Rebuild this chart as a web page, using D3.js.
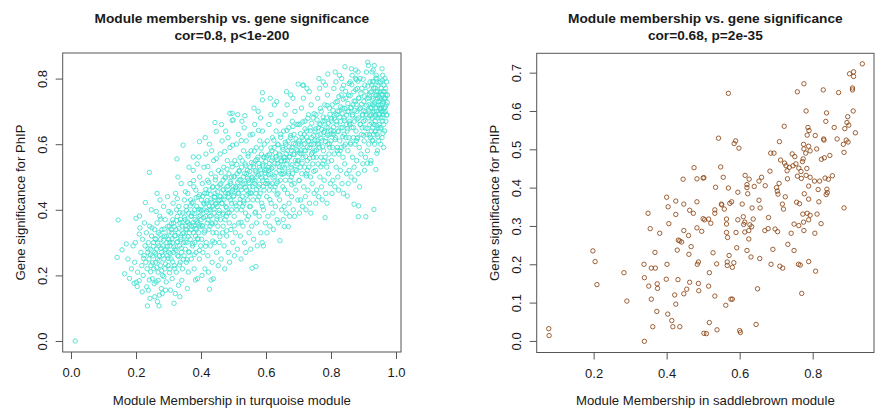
<!DOCTYPE html>
<html>
<head>
<meta charset="utf-8">
<script src="https://cdn.jsdelivr.net/npm/d3@7"></script>
<style>
body{margin:0;background:#fff;}
svg text{font-family:"Liberation Sans",Arial,sans-serif;fill:#1a1a1a;}
</style>
</head>
<body>
<div id="chart"></div>
<script>
// ---- data: [module membership, gene significance] ----
var turqBandA = [[0.013,0.00],[0.145,0.369],[0.142,0.255],[0.157,0.278],[0.170,0.296],[0.191,0.290],[0.180,0.191],[0.201,0.179],[0.204,0.166],[0.210,0.184],[0.194,0.176],[0.200,0.374],[0.211,0.381],[0.210,0.326],[0.186,0.22],[0.175,0.25],[0.196,0.24],[0.205,0.21],[0.198,0.30],[0.165,0.205]];
var turqBandB = [[0.229,0.422],[0.241,0.514],[0.235,0.107],[0.238,0.155],[0.241,0.186],[0.245,0.211],[0.215,0.27],[0.218,0.23],[0.22,0.31],[0.222,0.20],[0.225,0.26],[0.228,0.29],[0.23,0.24],[0.232,0.33],[0.234,0.22],[0.236,0.27],[0.238,0.30],[0.24,0.25],[0.242,0.35],[0.244,0.28],[0.246,0.23],[0.248,0.32],[0.25,0.19],[0.212,0.345],[0.226,0.36],[0.247,0.40],[0.233,0.165],[0.243,0.13],[0.219,0.15]];
var turqBandC = [[0.265,0.450],[0.271,0.107],[0.266,0.120],[0.258,0.135],[0.272,0.140],[0.252,0.26],[0.254,0.30],[0.255,0.22],[0.257,0.34],[0.258,0.27],[0.26,0.24],[0.261,0.31],[0.262,0.18],[0.263,0.28],[0.265,0.36],[0.266,0.25],[0.268,0.21],[0.269,0.33],[0.27,0.29],[0.272,0.26],[0.273,0.38],[0.275,0.23],[0.276,0.31],[0.278,0.16],[0.279,0.27],[0.28,0.34],[0.282,0.20],[0.283,0.29],[0.285,0.41],[0.286,0.25],[0.288,0.32],[0.289,0.22],[0.29,0.37],[0.292,0.28],[0.293,0.18],[0.295,0.30],[0.296,0.26],[0.298,0.35],[0.299,0.23],[0.281,0.145],[0.291,0.155],[0.256,0.175],[0.274,0.43],[0.297,0.44],[0.262,0.395]];
var turqBandD = [[0.317,0.115],[0.335,0.135],[0.345,0.597],[0.326,0.555],[0.30,0.31],[0.301,0.27],[0.303,0.35],[0.304,0.22],[0.305,0.29],[0.307,0.39],[0.308,0.25],[0.31,0.33],[0.311,0.19],[0.312,0.30],[0.314,0.42],[0.315,0.27],[0.316,0.36],[0.318,0.23],[0.319,0.32],[0.32,0.28],[0.322,0.45],[0.323,0.34],[0.324,0.21],[0.326,0.30],[0.327,0.38],[0.328,0.26],[0.33,0.33],[0.331,0.17],[0.332,0.41],[0.334,0.29],[0.335,0.36],[0.336,0.24],[0.338,0.31],[0.339,0.48],[0.34,0.27],[0.342,0.35],[0.343,0.22],[0.344,0.39],[0.346,0.30],[0.347,0.33],[0.348,0.26],[0.349,0.43],[0.306,0.155],[0.321,0.145],[0.329,0.50],[0.341,0.185],[0.313,0.37],[0.337,0.37],[0.309,0.34],[0.325,0.40]];
var turqBandE = [[0.395,0.608],[0.376,0.561],[0.393,0.561],[0.383,0.186],[0.35,0.32],[0.351,0.37],[0.352,0.28],[0.354,0.41],[0.355,0.24],[0.356,0.34],[0.357,0.30],[0.359,0.45],[0.36,0.36],[0.361,0.21],[0.362,0.39],[0.364,0.27],[0.365,0.33],[0.366,0.48],[0.367,0.31],[0.369,0.38],[0.37,0.25],[0.371,0.35],[0.372,0.42],[0.374,0.29],[0.375,0.36],[0.376,0.52],[0.377,0.33],[0.379,0.22],[0.38,0.40],[0.381,0.30],[0.382,0.37],[0.384,0.46],[0.385,0.27],[0.386,0.34],[0.387,0.41],[0.389,0.19],[0.39,0.36],[0.391,0.31],[0.392,0.44],[0.394,0.38],[0.395,0.25],[0.396,0.50],[0.397,0.35],[0.399,0.29],[0.358,0.16],[0.368,0.43],[0.378,0.47],[0.388,0.54],[0.363,0.53],[0.398,0.40],[0.373,0.39],[0.353,0.35],[0.383,0.32],[0.393,0.33]];
var turqBandF = [[0.426,0.158],[0.431,0.186],[0.443,0.666],[0.447,0.639],[0.40,0.37],[0.401,0.43],[0.402,0.31],[0.404,0.48],[0.405,0.35],[0.406,0.27],[0.407,0.40],[0.409,0.53],[0.41,0.33],[0.411,0.45],[0.412,0.22],[0.414,0.38],[0.415,0.57],[0.416,0.30],[0.417,0.42],[0.419,0.36],[0.42,0.49],[0.421,0.26],[0.422,0.40],[0.424,0.34],[0.425,0.46],[0.426,0.60],[0.427,0.38],[0.429,0.29],[0.43,0.43],[0.431,0.51],[0.432,0.36],[0.434,0.24],[0.435,0.41],[0.436,0.47],[0.437,0.33],[0.439,0.55],[0.44,0.39],[0.441,0.44],[0.442,0.30],[0.444,0.36],[0.445,0.50],[0.446,0.42],[0.448,0.27],[0.449,0.38],[0.403,0.20],[0.413,0.62],[0.423,0.21],[0.433,0.58],[0.438,0.19],[0.408,0.42],[0.418,0.45],[0.428,0.35],[0.443,0.45],[0.447,0.33],[0.428,0.40]];
var turqBandG = [[0.496,0.694],[0.496,0.672],[0.489,0.694],[0.499,0.674],[0.45,0.41],[0.451,0.47],[0.452,0.35],[0.454,0.52],[0.455,0.39],[0.456,0.30],[0.457,0.44],[0.459,0.57],[0.46,0.37],[0.461,0.48],[0.462,0.25],[0.464,0.42],[0.465,0.61],[0.466,0.33],[0.467,0.46],[0.469,0.39],[0.47,0.53],[0.471,0.29],[0.472,0.44],[0.474,0.37],[0.475,0.50],[0.476,0.64],[0.477,0.41],[0.479,0.32],[0.48,0.47],[0.481,0.55],[0.482,0.39],[0.484,0.27],[0.485,0.45],[0.486,0.51],[0.487,0.36],[0.489,0.59],[0.49,0.43],[0.491,0.48],[0.492,0.34],[0.494,0.40],[0.495,0.54],[0.497,0.46],[0.498,0.30],[0.453,0.23],[0.463,0.66],[0.473,0.22],[0.483,0.62],[0.488,0.24],[0.458,0.43],[0.468,0.49],[0.478,0.38],[0.493,0.50],[0.468,0.35],[0.483,0.45]];
var turqBandH = [[0.535,0.687],[0.557,0.222],[0.50,0.44],[0.501,0.50],[0.502,0.38],[0.504,0.55],[0.505,0.42],[0.506,0.33],[0.507,0.47],[0.509,0.60],[0.51,0.40],[0.511,0.51],[0.512,0.28],[0.514,0.45],[0.515,0.63],[0.516,0.36],[0.517,0.49],[0.519,0.42],[0.52,0.56],[0.521,0.32],[0.522,0.47],[0.524,0.40],[0.525,0.53],[0.526,0.67],[0.527,0.44],[0.529,0.35],[0.53,0.50],[0.531,0.58],[0.532,0.42],[0.534,0.30],[0.535,0.48],[0.536,0.54],[0.537,0.39],[0.539,0.61],[0.54,0.46],[0.541,0.51],[0.542,0.37],[0.544,0.43],[0.545,0.57],[0.546,0.49],[0.548,0.33],[0.549,0.41],[0.503,0.26],[0.513,0.69],[0.523,0.25],[0.533,0.65],[0.538,0.27],[0.508,0.46],[0.518,0.52],[0.528,0.41],[0.543,0.52],[0.547,0.45]];
var turqBandI = [[0.569,0.227],[0.592,0.290],[0.589,0.757],[0.589,0.735],[0.55,0.47],[0.551,0.53],[0.552,0.41],[0.554,0.58],[0.555,0.45],[0.556,0.35],[0.557,0.50],[0.559,0.63],[0.56,0.43],[0.561,0.54],[0.562,0.31],[0.564,0.48],[0.565,0.66],[0.566,0.39],[0.567,0.52],[0.569,0.45],[0.57,0.59],[0.571,0.36],[0.572,0.50],[0.574,0.43],[0.575,0.56],[0.576,0.70],[0.577,0.47],[0.579,0.38],[0.58,0.53],[0.581,0.61],[0.582,0.45],[0.584,0.33],[0.585,0.51],[0.586,0.57],[0.587,0.42],[0.589,0.64],[0.59,0.49],[0.591,0.54],[0.592,0.40],[0.594,0.46],[0.595,0.60],[0.597,0.52],[0.598,0.36],[0.553,0.28],[0.563,0.71],[0.573,0.29],[0.583,0.68],[0.588,0.30],[0.558,0.49],[0.568,0.55],[0.578,0.44],[0.593,0.56],[0.599,0.48]];
var turqBandJ = [[0.643,0.306],[0.60,0.50],[0.601,0.56],[0.602,0.44],[0.604,0.61],[0.605,0.48],[0.606,0.38],[0.607,0.53],[0.609,0.66],[0.61,0.46],[0.611,0.57],[0.612,0.35],[0.614,0.51],[0.615,0.69],[0.616,0.42],[0.617,0.55],[0.619,0.48],[0.62,0.62],[0.621,0.39],[0.622,0.53],[0.624,0.46],[0.625,0.59],[0.626,0.72],[0.627,0.50],[0.629,0.41],[0.63,0.56],[0.631,0.64],[0.632,0.48],[0.634,0.37],[0.635,0.54],[0.636,0.60],[0.637,0.45],[0.639,0.67],[0.64,0.52],[0.641,0.57],[0.642,0.43],[0.644,0.49],[0.645,0.63],[0.647,0.55],[0.648,0.40],[0.603,0.33],[0.613,0.74],[0.623,0.34],[0.633,0.73],[0.638,0.36],[0.608,0.52],[0.618,0.58],[0.628,0.47],[0.646,0.51]];
var turqBandK = [[0.656,0.349],[0.669,0.349],[0.699,0.783],[0.65,0.53],[0.651,0.59],[0.652,0.47],[0.654,0.64],[0.655,0.51],[0.656,0.41],[0.657,0.56],[0.659,0.69],[0.66,0.49],[0.661,0.60],[0.662,0.39],[0.664,0.54],[0.665,0.72],[0.666,0.45],[0.667,0.58],[0.669,0.51],[0.67,0.65],[0.671,0.42],[0.672,0.56],[0.674,0.49],[0.675,0.62],[0.676,0.75],[0.677,0.53],[0.679,0.44],[0.68,0.59],[0.681,0.67],[0.682,0.51],[0.684,0.40],[0.685,0.57],[0.686,0.63],[0.687,0.48],[0.689,0.70],[0.69,0.55],[0.691,0.60],[0.692,0.46],[0.694,0.52],[0.695,0.66],[0.697,0.58],[0.698,0.43],[0.653,0.37],[0.663,0.76],[0.673,0.38],[0.683,0.74],[0.688,0.38],[0.658,0.55],[0.668,0.61],[0.678,0.50],[0.696,0.54]];
var turqBandL = [[0.715,0.780],[0.70,0.55],[0.701,0.61],[0.702,0.49],[0.704,0.66],[0.705,0.53],[0.706,0.43],[0.707,0.58],[0.709,0.71],[0.71,0.51],[0.711,0.62],[0.712,0.41],[0.714,0.56],[0.715,0.74],[0.716,0.47],[0.717,0.60],[0.719,0.53],[0.72,0.67],[0.721,0.44],[0.722,0.58],[0.724,0.51],[0.725,0.64],[0.726,0.77],[0.727,0.55],[0.729,0.46],[0.73,0.61],[0.731,0.69],[0.732,0.53],[0.734,0.42],[0.735,0.59],[0.736,0.65],[0.737,0.50],[0.739,0.72],[0.74,0.57],[0.741,0.62],[0.742,0.48],[0.744,0.54],[0.745,0.68],[0.747,0.60],[0.748,0.45],[0.703,0.39],[0.713,0.78],[0.723,0.40],[0.733,0.76],[0.738,0.39],[0.708,0.57],[0.718,0.63],[0.728,0.52],[0.746,0.56]];
var turqBandM = [[0.782,0.376],[0.790,0.814],[0.75,0.58],[0.751,0.64],[0.752,0.52],[0.754,0.69],[0.755,0.56],[0.756,0.46],[0.757,0.61],[0.759,0.74],[0.76,0.54],[0.761,0.65],[0.762,0.44],[0.764,0.59],[0.765,0.77],[0.766,0.50],[0.767,0.63],[0.769,0.56],[0.77,0.70],[0.771,0.47],[0.772,0.61],[0.774,0.54],[0.775,0.67],[0.776,0.79],[0.777,0.58],[0.779,0.49],[0.78,0.64],[0.781,0.72],[0.782,0.56],[0.784,0.45],[0.785,0.62],[0.786,0.68],[0.787,0.53],[0.789,0.75],[0.79,0.60],[0.791,0.65],[0.792,0.51],[0.794,0.57],[0.795,0.71],[0.797,0.63],[0.798,0.48],[0.753,0.42],[0.763,0.80],[0.773,0.43],[0.783,0.78],[0.788,0.42],[0.758,0.60],[0.768,0.66],[0.778,0.55],[0.796,0.59]];
var turqBandN = [[0.843,0.836],[0.850,0.442],[0.80,0.61],[0.801,0.67],[0.802,0.55],[0.804,0.72],[0.805,0.59],[0.806,0.49],[0.807,0.64],[0.809,0.77],[0.81,0.57],[0.811,0.68],[0.812,0.47],[0.814,0.62],[0.815,0.79],[0.816,0.53],[0.817,0.66],[0.819,0.59],[0.82,0.73],[0.821,0.50],[0.822,0.64],[0.824,0.57],[0.825,0.70],[0.826,0.81],[0.827,0.61],[0.829,0.52],[0.83,0.67],[0.831,0.75],[0.832,0.59],[0.834,0.48],[0.835,0.65],[0.836,0.71],[0.837,0.56],[0.839,0.78],[0.84,0.63],[0.841,0.68],[0.842,0.54],[0.844,0.60],[0.845,0.74],[0.847,0.66],[0.848,0.51],[0.803,0.45],[0.813,0.82],[0.823,0.46],[0.833,0.80],[0.838,0.45],[0.808,0.63],[0.818,0.69],[0.828,0.58],[0.846,0.62]];
var turqBandO = [[0.876,0.826],[0.871,0.417],[0.885,0.412],[0.884,0.379],[0.85,0.64],[0.851,0.70],[0.852,0.58],[0.854,0.75],[0.855,0.62],[0.856,0.52],[0.857,0.67],[0.859,0.79],[0.86,0.60],[0.861,0.71],[0.862,0.50],[0.864,0.65],[0.865,0.81],[0.866,0.56],[0.867,0.69],[0.869,0.62],[0.87,0.76],[0.871,0.53],[0.872,0.67],[0.874,0.60],[0.875,0.73],[0.876,0.80],[0.877,0.64],[0.879,0.55],[0.88,0.70],[0.881,0.77],[0.882,0.62],[0.884,0.51],[0.885,0.68],[0.886,0.74],[0.887,0.59],[0.889,0.80],[0.89,0.66],[0.891,0.71],[0.892,0.57],[0.894,0.63],[0.895,0.77],[0.897,0.69],[0.898,0.54],[0.853,0.48],[0.863,0.83],[0.873,0.49],[0.883,0.82],[0.888,0.47],[0.858,0.66],[0.868,0.72],[0.878,0.61],[0.896,0.65]];
var turqBandP = [[0.907,0.379],[0.932,0.401],[0.912,0.542],[0.941,0.572],[0.938,0.523],[0.922,0.542],[0.930,0.826],[0.90,0.67],[0.901,0.73],[0.902,0.61],[0.904,0.78],[0.905,0.65],[0.906,0.56],[0.907,0.70],[0.909,0.82],[0.91,0.63],[0.911,0.74],[0.912,0.58],[0.914,0.68],[0.915,0.84],[0.916,0.60],[0.917,0.72],[0.919,0.66],[0.92,0.79],[0.921,0.62],[0.922,0.71],[0.924,0.64],[0.925,0.76],[0.926,0.82],[0.927,0.68],[0.929,0.61],[0.93,0.74],[0.931,0.79],[0.932,0.66],[0.934,0.60],[0.935,0.72],[0.936,0.77],[0.937,0.64],[0.939,0.81],[0.94,0.70],[0.941,0.75],[0.942,0.63],[0.944,0.68],[0.945,0.78],[0.946,0.73],[0.947,0.61],[0.948,0.66],[0.949,0.71],[0.903,0.52],[0.913,0.85],[0.923,0.55],[0.933,0.84],[0.943,0.58],[0.908,0.69],[0.918,0.75],[0.928,0.65],[0.938,0.69],[0.928,0.72],[0.933,0.70],[0.936,0.67],[0.924,0.69],[0.943,0.74],[0.947,0.69],[0.939,0.76],[0.931,0.63],[0.945,0.65],[0.926,0.78],[0.941,0.80]];
var turqBandQ = [[0.95,0.74],[0.951,0.68],[0.952,0.79],[0.953,0.72],[0.954,0.65],[0.955,0.77],[0.956,0.70],[0.957,0.62],[0.958,0.75],[0.959,0.81],[0.96,0.69],[0.961,0.73],[0.962,0.66],[0.963,0.78],[0.964,0.71],[0.965,0.64],[0.966,0.76],[0.967,0.70],[0.968,0.74],[0.969,0.67],[0.97,0.72],[0.971,0.79],[0.972,0.69],[0.974,0.75],[0.953,0.60],[0.957,0.83],[0.962,0.59],[0.966,0.80],[0.955,0.71],[0.959,0.67],[0.963,0.74],[0.958,0.70],[0.952,0.76],[0.968,0.77]];
// denser core of the turquoise cloud
var turqCore1 = [[0.223,0.252],[0.237,0.281],[0.244,0.263],[0.251,0.238],[0.253,0.289],[0.259,0.312],[0.261,0.265],[0.264,0.224],[0.267,0.298],[0.271,0.246],[0.274,0.325],[0.277,0.283],[0.279,0.214],[0.282,0.262],[0.284,0.307],[0.287,0.341],[0.289,0.277],[0.291,0.235],[0.294,0.319],[0.297,0.288],[0.299,0.252],[0.302,0.333],[0.304,0.301],[0.306,0.267],[0.309,0.358],[0.311,0.312],[0.313,0.241],[0.316,0.287],[0.318,0.348],[0.321,0.322],[0.323,0.276],[0.325,0.367],[0.328,0.303],[0.331,0.258],[0.333,0.344],[0.335,0.391],[0.337,0.316],[0.339,0.283],[0.342,0.362],[0.344,0.327],[0.346,0.249],[0.349,0.378],[0.351,0.302],[0.353,0.341],[0.356,0.398],[0.358,0.364],[0.36,0.318],[0.362,0.272],[0.365,0.356],[0.367,0.412],[0.369,0.339],[0.371,0.381],[0.374,0.297],[0.376,0.423],[0.378,0.352],[0.381,0.389],[0.383,0.343],[0.385,0.437],[0.387,0.366],[0.389,0.312],[0.392,0.402],[0.394,0.354],[0.396,0.446],[0.398,0.383],[0.268,0.185],[0.286,0.196],[0.303,0.208],[0.319,0.221],[0.334,0.232],[0.357,0.248],[0.379,0.263],[0.395,0.276],[0.249,0.345],[0.276,0.372],[0.301,0.395],[0.327,0.434],[0.352,0.455],[0.377,0.489]];
var turqCore2 = [[0.401,0.398],[0.403,0.352],[0.405,0.441],[0.408,0.376],[0.41,0.417],[0.412,0.336],[0.415,0.462],[0.417,0.395],[0.419,0.428],[0.422,0.369],[0.424,0.484],[0.426,0.411],[0.428,0.447],[0.431,0.382],[0.433,0.423],[0.435,0.357],[0.437,0.469],[0.44,0.402],[0.442,0.438],[0.444,0.491],[0.446,0.417],[0.449,0.372],[0.451,0.455],[0.453,0.428],[0.456,0.398],[0.458,0.476],[0.46,0.441],[0.462,0.513],[0.465,0.419],[0.467,0.386],[0.469,0.462],[0.471,0.432],[0.474,0.497],[0.476,0.451],[0.478,0.407],[0.48,0.524],[0.483,0.472],[0.485,0.438],[0.487,0.392],[0.49,0.486],[0.492,0.455],[0.494,0.419],[0.496,0.531],[0.499,0.471],[0.501,0.443],[0.503,0.502],[0.506,0.467],[0.508,0.412],[0.51,0.538],[0.513,0.483],[0.515,0.451],[0.517,0.517],[0.52,0.432],[0.522,0.492],[0.524,0.461],[0.527,0.549],[0.529,0.478],[0.531,0.427],[0.534,0.511],[0.536,0.469],[0.538,0.534],[0.541,0.445],[0.543,0.496],[0.545,0.563],[0.548,0.482],[0.55,0.517],[0.552,0.452],[0.555,0.544],[0.557,0.497],[0.559,0.471],[0.562,0.531],[0.564,0.579],[0.566,0.488],[0.569,0.515],[0.571,0.462],[0.573,0.553],[0.576,0.506],[0.578,0.541],[0.58,0.478],[0.583,0.522],[0.585,0.588],[0.587,0.497],[0.59,0.534],[0.592,0.471],[0.594,0.561],[0.597,0.512],[0.599,0.547],[0.414,0.289],[0.436,0.305],[0.458,0.318],[0.479,0.336],[0.502,0.351],[0.523,0.362],[0.546,0.381],[0.568,0.393],[0.589,0.41],[0.421,0.532],[0.447,0.556],[0.473,0.578],[0.497,0.597],[0.524,0.611],[0.551,0.628],[0.577,0.642]];
var turqCore3 = [[0.601,0.523],[0.603,0.488],[0.606,0.566],[0.608,0.507],[0.61,0.541],[0.613,0.474],[0.615,0.589],[0.617,0.526],[0.62,0.558],[0.622,0.497],[0.624,0.612],[0.627,0.542],[0.629,0.574],[0.631,0.513],[0.634,0.553],[0.636,0.486],[0.638,0.598],[0.641,0.531],[0.643,0.567],[0.645,0.621],[0.648,0.547],[0.65,0.508],[0.652,0.584],[0.655,0.559],[0.657,0.527],[0.659,0.606],[0.662,0.571],[0.664,0.642],[0.666,0.549],[0.669,0.516],[0.671,0.592],[0.673,0.563],[0.676,0.627],[0.678,0.581],[0.68,0.537],[0.683,0.654],[0.685,0.602],[0.687,0.568],[0.69,0.523],[0.692,0.616],[0.694,0.584],[0.697,0.549],[0.699,0.661],[0.701,0.601],[0.704,0.573],[0.706,0.632],[0.708,0.597],[0.711,0.542],[0.713,0.668],[0.715,0.613],[0.718,0.581],[0.72,0.647],[0.722,0.562],[0.725,0.622],[0.727,0.591],[0.729,0.679],[0.732,0.608],[0.734,0.557],[0.736,0.641],[0.739,0.599],[0.741,0.664],[0.743,0.575],[0.746,0.626],[0.748,0.693],[0.75,0.612],[0.753,0.647],[0.755,0.582],[0.757,0.674],[0.76,0.627],[0.762,0.601],[0.764,0.661],[0.767,0.709],[0.769,0.618],[0.771,0.645],[0.774,0.592],[0.776,0.683],[0.778,0.636],[0.781,0.671],[0.783,0.608],[0.785,0.652],[0.788,0.718],[0.79,0.627],[0.792,0.664],[0.795,0.601],[0.797,0.691],[0.799,0.642],[0.612,0.431],[0.634,0.446],[0.657,0.462],[0.679,0.476],[0.702,0.489],[0.724,0.503],[0.747,0.517],[0.769,0.531],[0.791,0.546]];
var turqCore4 = [[0.801,0.677],[0.803,0.631],[0.806,0.703],[0.808,0.652],[0.81,0.688],[0.813,0.614],[0.815,0.728],[0.817,0.669],[0.82,0.701],[0.822,0.638],[0.824,0.745],[0.827,0.682],[0.829,0.714],[0.831,0.651],[0.834,0.694],[0.836,0.623],[0.838,0.737],[0.841,0.672],[0.843,0.709],[0.845,0.761],[0.848,0.688],[0.85,0.647],[0.852,0.724],[0.855,0.699],[0.857,0.664],[0.859,0.748],[0.862,0.712],[0.864,0.781],[0.866,0.686],[0.869,0.651],[0.871,0.732],[0.873,0.703],[0.876,0.766],[0.878,0.721],[0.88,0.676],[0.883,0.792],[0.885,0.741],[0.887,0.707],[0.89,0.661],[0.892,0.755],[0.894,0.722],[0.897,0.688],[0.899,0.798],[0.901,0.702],[0.903,0.745],[0.905,0.673],[0.907,0.761],[0.909,0.719],[0.911,0.648],[0.913,0.777],[0.915,0.704],[0.917,0.741],[0.919,0.687],[0.921,0.758],[0.923,0.712],[0.925,0.665],[0.927,0.734],[0.929,0.697],[0.931,0.771],[0.933,0.726],[0.935,0.683],[0.937,0.748],[0.939,0.711],[0.941,0.657],[0.943,0.762],[0.945,0.719],[0.947,0.746],[0.949,0.692],[0.951,0.731],[0.953,0.707],[0.955,0.752],[0.957,0.681],[0.959,0.723],[0.961,0.761],[0.963,0.698],[0.965,0.737],[0.967,0.713],[0.969,0.751],[0.971,0.688],[0.973,0.727],[0.918,0.628],[0.927,0.612],[0.936,0.637],[0.944,0.622],[0.952,0.647],[0.96,0.633],[0.928,0.791],[0.938,0.802],[0.948,0.787],[0.958,0.795],[0.82,0.581],[0.84,0.594],[0.86,0.604],[0.88,0.617],[0.9,0.627],[0.834,0.769],[0.856,0.785],[0.878,0.797]];

var saddlebrownPoints = [[0.475,0.452],[0.445,0.422],[0.483,0.423],[0.500,0.425],[0.400,0.375],[0.425,0.365],[0.447,0.357],[0.483,0.363],
[0.936,0.723],[0.901,0.697],[0.912,0.702],[0.912,0.690],[0.909,0.660],[0.909,0.655],[0.776,0.671],[0.758,0.650],[0.829,0.655],[0.871,0.648],[0.569,0.646],[0.782,0.600],[0.838,0.595],[0.911,0.600],[0.896,0.585],[0.836,0.573],[0.894,0.570],[0.899,0.563],[0.888,0.554],[0.917,0.543],[0.859,0.557],[0.787,0.557],[0.790,0.549],[0.785,0.537],[0.722,0.560],[0.807,0.536],[0.830,0.527],[0.831,0.524],[0.542,0.529],[0.589,0.522],[0.585,0.515],[0.598,0.503],[0.709,0.520],[0.867,0.527],[0.892,0.524],[0.897,0.519],[0.884,0.513],[0.775,0.513],[0.789,0.508],[0.776,0.501],[0.793,0.496],[0.781,0.490],[0.811,0.501],[0.886,0.492],[0.685,0.490],[0.694,0.490],[0.744,0.488],[0.751,0.481],[0.712,0.472],[0.723,0.464],[0.727,0.457],[0.774,0.475],[0.772,0.468],[0.824,0.474],[0.832,0.478],[0.847,0.484],[0.736,0.453],[0.746,0.457],[0.754,0.462],[0.762,0.451],[0.768,0.442],[0.784,0.450],[0.730,0.444],[0.683,0.443],[0.548,0.454],[0.502,0.426],[0.555,0.427],[0.615,0.432],[0.626,0.422],[0.660,0.427],[0.653,0.417],[0.670,0.405],[0.640,0.403],[0.620,0.408],[0.620,0.400],[0.622,0.384],[0.534,0.401],[0.569,0.399],[0.595,0.388],
[0.731,0.423],[0.758,0.430],[0.769,0.424],[0.782,0.432],[0.793,0.427],[0.805,0.417],[0.819,0.417],[0.834,0.425],[0.843,0.422],[0.854,0.431],[0.789,0.404],[0.815,0.395],[0.708,0.411],[0.701,0.400],[0.703,0.391],[0.705,0.383],[0.839,0.396],[0.840,0.387],[0.837,0.382],[0.777,0.384],[0.789,0.370],[0.725,0.376],[0.578,0.363],[0.573,0.359],[0.607,0.357],[0.653,0.367],[0.550,0.357],[0.717,0.357],[0.756,0.362],[0.764,0.358],[0.817,0.363],
[0.886,0.347],[0.558,0.344],[0.551,0.355],[0.634,0.347],[0.656,0.347],[0.720,0.344],[0.532,0.342],[0.532,0.333],[0.500,0.319],[0.504,0.316],[0.515,0.318],[0.521,0.307],[0.496,0.286],[0.564,0.318],[0.564,0.305],[0.564,0.283],[0.567,0.270],[0.595,0.316],[0.610,0.324],[0.614,0.310],[0.611,0.304],[0.628,0.303],[0.633,0.298],[0.625,0.288],[0.614,0.284],[0.590,0.283],[0.625,0.266],[0.637,0.318],[0.679,0.322],[0.669,0.288],[0.678,0.293],[0.697,0.292],[0.704,0.285],[0.741,0.281],[0.749,0.305],[0.762,0.301],[0.776,0.288],[0.775,0.310],[0.789,0.316],[0.785,0.333],[0.793,0.328],[0.773,0.331],[0.812,0.331],[0.823,0.306],[0.806,0.281],[0.732,0.252],[0.749,0.236],[0.691,0.239],[0.592,0.243],[0.620,0.236],[0.631,0.219],[0.655,0.215],[0.527,0.230],[0.571,0.223],[0.537,0.201],[0.566,0.206],[0.566,0.197],[0.580,0.192],[0.584,0.204],[0.686,0.200],[0.710,0.195],[0.718,0.190],[0.761,0.200],[0.766,0.198],[0.789,0.207],[0.808,0.182],[0.517,0.178],[0.515,0.143],[0.532,0.117],[0.649,0.136],[0.770,0.124],[0.576,0.109],[0.580,0.109],[0.562,0.093],[0.517,0.048],[0.509,0.019],[0.538,0.029],[0.600,0.027],[0.602,0.022],[0.645,0.043],
[0.349,0.333],[0.404,0.350],[0.463,0.341],[0.473,0.333],[0.425,0.330],[0.406,0.306],[0.355,0.293],[0.381,0.281],[0.447,0.288],[0.460,0.275],[0.483,0.295],[0.432,0.263],[0.436,0.261],[0.441,0.258],[0.429,0.237],[0.467,0.246],[0.461,0.226],[0.368,0.231],[0.198,0.235],[0.204,0.207],[0.209,0.147],[0.283,0.178],[0.291,0.104],[0.338,0.200],[0.358,0.190],[0.369,0.190],[0.401,0.200],[0.487,0.206],[0.484,0.200],[0.339,0.165],[0.351,0.143],[0.374,0.149],[0.375,0.137],[0.399,0.161],[0.431,0.160],[0.463,0.153],[0.487,0.150],[0.488,0.131],[0.455,0.135],[0.447,0.123],[0.422,0.120],[0.425,0.096],[0.358,0.109],[0.373,0.077],[0.403,0.070],[0.414,0.053],[0.417,0.037],[0.436,0.037],[0.362,0.037],[0.077,0.032],[0.078,0.014],[0.339,-0.001],[0.502,0.020]];

var turquoisePoints = [].concat(turqBandA, turqBandB, turqBandC, turqBandD, turqBandE, turqBandF, turqBandG, turqBandH, turqBandI, turqBandJ, turqBandK, turqBandL, turqBandM, turqBandN, turqBandO, turqBandP, turqBandQ, turqCore1, turqCore2, turqCore3, turqCore4);

var leftXTicks = [0.0, 0.2, 0.4, 0.6, 0.8, 1.0];
var leftYTicks = [0.0, 0.2, 0.4, 0.6, 0.8];
var rightXTicks = [0.2, 0.4, 0.6, 0.8];
var rightYTicks = [0.0, 0.1, 0.2, 0.3, 0.4, 0.5, 0.6, 0.7];

var panels = [
    {points: turquoisePoints, color: '#40E0D0',
     box: {x0: 62.7, x1: 401, y0: 53, y1: 352},
     xDomain: [-0.0255, 1.0154], yDomain: [-0.0335, 0.878],
     xTicks: leftXTicks, yTicks: leftYTicks,
     title2: 'cor=0.8, p<1e-200',
     xlab: 'Module Membership in turquoise module'},
    {points: saddlebrownPoints, color: '#8B4513',
     box: {x0: 536.7, x1: 874, y0: 53.3, y1: 352.5},
     xDomain: [0.044, 0.968], yDomain: [-0.0302, 0.7505],
     xTicks: rightXTicks, yTicks: rightYTicks,
     title2: 'cor=0.68, p=2e-35',
     xlab: 'Module Membership in saddlebrown module'}
];

var width = 875, height = 410;
var svg = d3.select('#chart').append('svg')
    .attr('width', width)
    .attr('height', height);

var fmt = d3.format('.1f');

panels.forEach(function(p) {
    var b = p.box;
    var x = d3.scaleLinear().domain(p.xDomain).range([b.x0, b.x1]);
    var y = d3.scaleLinear().domain(p.yDomain).range([b.y1, b.y0]);
    var cx = (b.x0 + b.x1) / 2, cy = (b.y0 + b.y1) / 2;
    var g = svg.append('g');

    // points
    g.append('g').selectAll('circle')
        .data(p.points)
        .enter()
        .append('circle')
        .attr('cx', function(d) { return x(d[0]); })
        .attr('cy', function(d) { return y(d[1]); })
        .attr('r', 2.2)
        .attr('fill', 'none')
        .attr('stroke', p.color)
        .attr('stroke-width', 0.85);

    // box
    g.append('rect')
        .attr('x', b.x0).attr('y', b.y0)
        .attr('width', b.x1 - b.x0).attr('height', b.y1 - b.y0)
        .attr('fill', 'none').attr('stroke', '#555').attr('stroke-width', 1);

    // x axis (R style: ticks outside, no extra line)
    var xAxis = d3.axisBottom(x).tickValues(p.xTicks).tickSize(7).tickPadding(5).tickFormat(fmt);
    var gx = g.append('g').attr('transform', 'translate(0,' + b.y1 + ')').call(xAxis);
    gx.select('.domain').remove();
    gx.selectAll('line').attr('stroke', '#555');
    gx.selectAll('text')
        .attr('fill', '#1a1a1a')
        .style('font-size', '13px')
        .attr('dy', null)
        .attr('y', 25);

    var yAxis = d3.axisLeft(y).tickValues(p.yTicks).tickSize(7).tickFormat(fmt);
    var gy = g.append('g').attr('transform', 'translate(' + b.x0 + ',0)').call(yAxis);
    gy.select('.domain').remove();
    gy.selectAll('line').attr('stroke', '#555');
    gy.selectAll('text')
        .attr('fill', '#1a1a1a')
        .style('font-size', '13px')
        .attr('x', null).attr('dy', null)
        .attr('text-anchor', 'middle')
        .attr('transform', 'translate(-16,0) rotate(-90)');

    // titles
    g.append('text')
        .attr('x', cx).attr('y', 23)
        .attr('text-anchor', 'middle')
        .style('font-size', '13.7px').style('font-weight', 'bold')
        .text('Module membership vs. gene significance');
    g.append('text')
        .attr('x', cx).attr('y', 39.5)
        .attr('text-anchor', 'middle')
        .style('font-size', '13.7px').style('font-weight', 'bold')
        .text(p.title2);

    // axis labels
    g.append('text')
        .attr('x', cx).attr('y', 404.5)
        .attr('text-anchor', 'middle')
        .style('font-size', '13.2px')
        .text(p.xlab);
    g.append('text')
        .attr('transform', 'translate(' + (b.x0 - 37.5) + ',' + cy + ') rotate(-90)')
        .attr('text-anchor', 'middle')
        .style('font-size', '13.2px')
        .text('Gene significance for PhIP');
});
</script>
</body>
</html>
